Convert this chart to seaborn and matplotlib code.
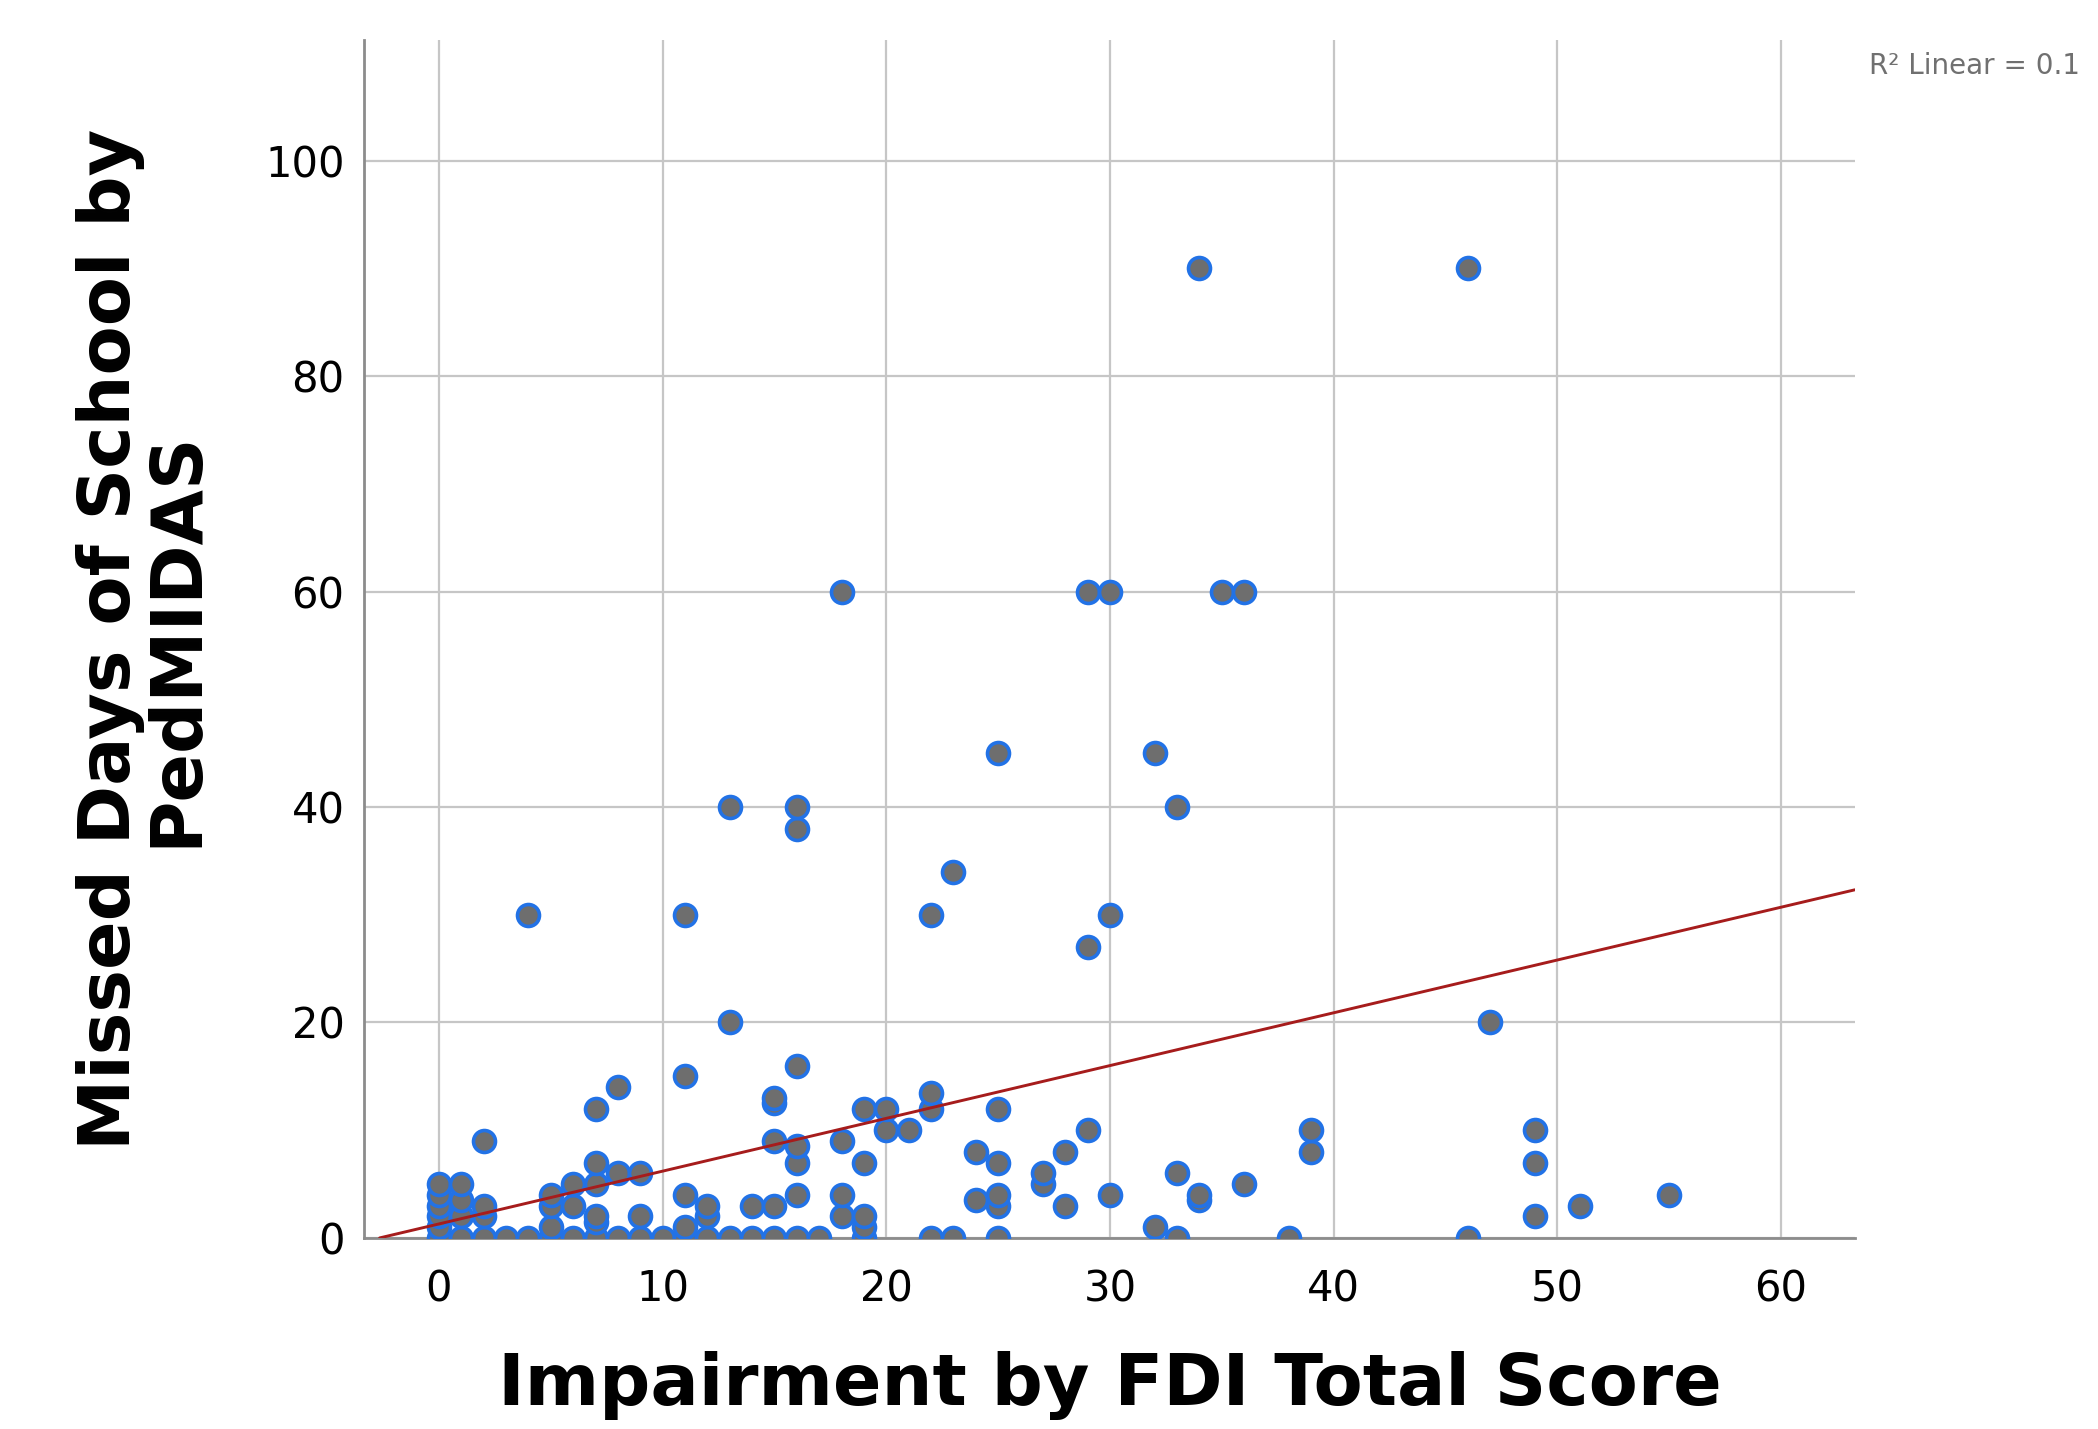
import matplotlib
matplotlib.use("Agg")
import pandas as pd
import seaborn as sns
from matplotlib import pyplot as plt

# FDI total score (x) and missed school days by PedMIDAS (y)
fdi_total = [
    0, 0, 0, 0, 0, 0,
    1, 1, 1, 1,
    2, 2, 2, 2,
    3,
    4, 4,
    5, 5, 5, 5,
    6, 6, 6,
    7, 7, 7, 7, 7, 7,
    8, 8, 8,
    9, 9, 9,
    10,
    11, 11, 11, 11, 11,
    12, 12, 12,
    13, 13, 13,
    14, 14,
    15, 15, 15, 15, 15,
    16, 16, 16, 16, 16, 16, 16,
    17,
    18, 18, 18, 18,
    19, 19, 19, 19, 19,
    20, 20,
    21,
    22, 22, 22, 22,
    23, 23,
    24, 24,
    25, 25, 25, 25, 25, 25,
    27, 27,
    28, 28,
    29, 29, 29,
    30, 30, 30,
    32, 32,
    33, 33, 33,
    34, 34, 34,
    35,
    36, 36,
    38,
    39, 39,
    46, 46,
    47,
    49, 49, 49,
    51,
    55,
]
missed_days = [
    0, 1, 2, 3, 4, 5,
    0, 2, 3.5, 5,
    0, 2, 3, 9,
    0,
    0, 30,
    0, 1, 3, 4,
    0, 3, 5,
    0, 1.5, 2, 5, 7, 12,
    0, 6, 14,
    0, 2, 6,
    0,
    0, 1, 4, 15, 30,
    0, 2, 3,
    0, 20, 40,
    0, 3,
    0, 3, 9, 12.5, 13,
    0, 4, 7, 8.5, 16, 38, 40,
    0,
    2, 4, 9, 60,
    0, 1, 2, 7, 12,
    10, 12,
    10,
    0, 12, 13.5, 30,
    0, 34,
    3.5, 8,
    0, 3, 4, 7, 12, 45,
    5, 6,
    3, 8,
    10, 27, 60,
    4, 30, 60,
    1, 45,
    0, 6, 40,
    3.5, 4, 90,
    60,
    5, 60,
    0,
    8, 10,
    0, 90,
    20,
    2, 7, 10,
    3,
    4,
]

# linear fit line as shown in the chart
fit_intercept = 1.3
fit_slope = 0.49
r2_label = "R² Linear = 0.1"

x_ticks = [0, 10, 20, 30, 40, 50, 60]
y_ticks = [0, 20, 40, 60, 80, 100]

df = pd.DataFrame({"fdi": fdi_total, "days": missed_days})

sns.set_style("white")
plt.rcParams["font.family"] = ["DejaVu Sans"]

fig = plt.figure(figsize=(20.98, 14.29), dpi=100)
ax = fig.add_axes([0.1735, 0.1337, 0.7106, 0.8383])

sns.scatterplot(
    data=df, x="fdi", y="days", ax=ax,
    s=250, color="#6e6e6e", edgecolor="#2272e6", linewidth=2.6, zorder=3,
)
ax.axline((0, fit_intercept), slope=fit_slope, color="#a61c1c", lw=2.1, zorder=4)

ax.set_xlim(-3.35, 63.3)
ax.set_ylim(0, 111.2)
ax.set_xticks(x_ticks)
ax.set_yticks(y_ticks)
ax.grid(True, color="#c6c6c6", lw=1.6)
ax.set_axisbelow(True)

for side in ["top", "right"]:
    ax.spines[side].set_visible(False)
for side in ["left", "bottom"]:
    ax.spines[side].set_color("#8c8c8c")
    ax.spines[side].set_linewidth(2)

ax.tick_params(length=0, labelsize=30, colors="black")
ax.tick_params(axis="x", pad=22)
ax.tick_params(axis="y", pad=14)

ax.set_xlabel("Impairment by FDI Total Score", fontsize=51.5, fontweight="bold",
              color="black")
ax.set_ylabel("Missed Days of School by\nPedMIDAS", fontsize=51.5, fontweight="bold",
              color="black", linespacing=0.95)
ax.xaxis.set_label_coords(0.5, -0.123)
ax.xaxis.label.set_va("center")
ax.yaxis.set_label_coords(-0.1475, 0.5)
ax.yaxis.label.set_va("center")

fig.text(0.891, 0.954, r2_label, ha="left", va="center", fontsize=20, color="#707070")

fig.savefig("out.png", dpi=100)
